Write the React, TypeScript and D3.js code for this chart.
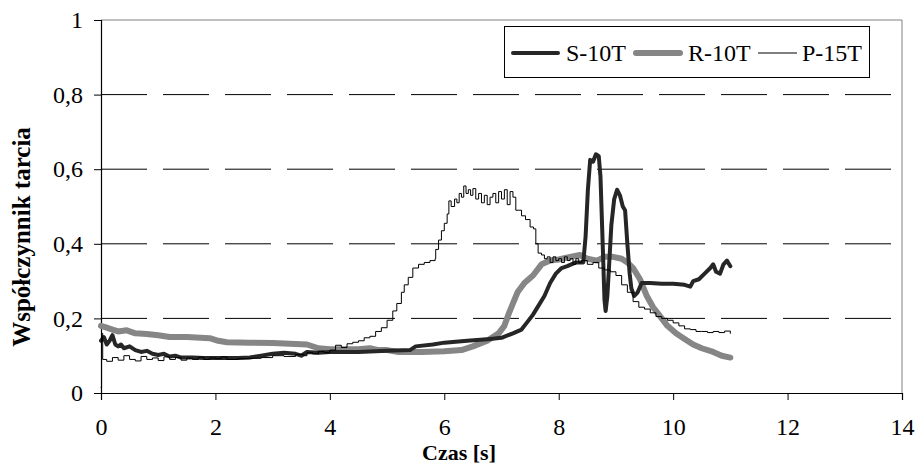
import { useRef, useEffect } from 'react';
import * as d3 from 'd3';

// friction coefficient vs time, three samples
const seriesNames = ['S-10T', 'R-10T', 'P-15T'];

const sTime = [0, 0.05, 0.1, 0.15, 0.2, 0.25, 0.3, 0.35, 0.4, 0.5, 0.6, 0.7, 0.8, 0.9, 1.0, 1.1, 1.2, 1.3, 1.4, 1.6, 1.8, 2.0, 2.4, 2.6, 2.8, 3.0, 3.2, 3.4, 3.5, 3.6, 3.8, 4.0, 4.5, 5.0, 5.4, 5.5, 5.8, 6.0, 6.4, 6.8, 7.0, 7.2, 7.35, 7.45, 7.55, 7.65, 7.75, 7.85, 7.95, 8.05, 8.15, 8.3, 8.43, 8.47, 8.51, 8.55, 8.6, 8.65, 8.7, 8.73, 8.76, 8.8, 8.82, 8.85, 8.88, 8.92, 8.97, 9.02, 9.07, 9.12, 9.16, 9.2, 9.24, 9.27, 9.32, 9.38, 9.45, 9.6, 9.8, 10.0, 10.2, 10.3, 10.35, 10.45, 10.55, 10.65, 10.7, 10.75, 10.82, 10.88, 10.94, 11.0];
const sVal = [0.14, 0.15, 0.13, 0.14, 0.155, 0.13, 0.125, 0.13, 0.12, 0.125, 0.115, 0.11, 0.113, 0.105, 0.102, 0.105, 0.098, 0.1, 0.095, 0.095, 0.094, 0.094, 0.094, 0.095, 0.1, 0.105, 0.108, 0.105, 0.1, 0.11, 0.108, 0.11, 0.11, 0.113, 0.115, 0.125, 0.13, 0.135, 0.14, 0.145, 0.148, 0.16, 0.17, 0.19, 0.21, 0.235, 0.26, 0.295, 0.32, 0.335, 0.34, 0.35, 0.35, 0.42, 0.545, 0.625, 0.62, 0.64, 0.635, 0.58, 0.44, 0.25, 0.22, 0.26, 0.34, 0.45, 0.52, 0.545, 0.53, 0.5, 0.49, 0.4, 0.32, 0.28, 0.26, 0.27, 0.295, 0.295, 0.293, 0.293, 0.29, 0.285, 0.3, 0.305, 0.32, 0.335, 0.345, 0.325, 0.32, 0.345, 0.355, 0.34];

const rTime = [0, 0.1, 0.2, 0.3, 0.45, 0.6, 0.8, 1.0, 1.2, 1.5, 1.9, 2.05, 2.2, 2.6, 3.0, 3.6, 3.8, 4.0, 4.5, 4.7, 4.85, 5.0, 5.2, 5.6, 6.0, 6.3, 6.5, 6.75, 6.95, 7.05, 7.12, 7.2, 7.28, 7.4, 7.55, 7.7, 7.85, 8.0, 8.2, 8.37, 8.5, 8.67, 8.8, 8.95, 9.1, 9.2, 9.3, 9.42, 9.54, 9.65, 9.75, 9.9, 10.05, 10.2, 10.35, 10.5, 10.7, 10.85, 11.0];
const rVal = [0.18, 0.175, 0.17, 0.165, 0.168, 0.16, 0.158, 0.155, 0.15, 0.15, 0.147, 0.14, 0.136, 0.135, 0.134, 0.13, 0.12, 0.117, 0.117, 0.12, 0.115, 0.115, 0.11, 0.11, 0.112, 0.115, 0.125, 0.14, 0.16, 0.18, 0.21, 0.24, 0.27, 0.295, 0.315, 0.345, 0.355, 0.358, 0.365, 0.37, 0.36, 0.355, 0.365, 0.365, 0.36, 0.35, 0.335, 0.305, 0.26, 0.23, 0.21, 0.18, 0.16, 0.145, 0.13, 0.12, 0.11, 0.1, 0.095];

const pTime = [0, 0.01, 0.03, 0.1, 0.2, 0.3, 0.4, 0.5, 0.6, 0.7, 0.8, 0.9, 1.0, 1.1, 1.2, 1.3, 1.4, 1.5, 1.6, 1.7, 1.8, 1.9, 2.0, 2.1, 2.2, 2.4, 2.6, 2.8, 3.0, 3.2, 3.4, 3.55, 3.6, 3.7, 3.8, 3.9, 4.0, 4.1, 4.2, 4.3, 4.4, 4.5, 4.6, 4.7, 4.8, 4.9, 5.0, 5.1, 5.17, 5.25, 5.3, 5.37, 5.45, 5.55, 5.65, 5.75, 5.84, 5.85, 5.9, 5.95, 6.0, 6.05, 6.08, 6.12, 6.18, 6.22, 6.26, 6.3, 6.34, 6.38, 6.42, 6.46, 6.5, 6.55, 6.6, 6.65, 6.7, 6.75, 6.8, 6.85, 6.9, 6.95, 7.0, 7.05, 7.1, 7.15, 7.2, 7.25, 7.3, 7.35, 7.42, 7.5, 7.56, 7.6, 7.64, 7.7, 7.75, 7.8, 7.85, 7.9, 7.95, 8.0, 8.05, 8.1, 8.15, 8.2, 8.25, 8.3, 8.35, 8.4, 8.5, 8.6, 8.7, 8.8, 8.9, 9.0, 9.1, 9.2, 9.3, 9.4, 9.5, 9.6, 9.7, 9.8, 9.9, 10.0, 10.1, 10.2, 10.3, 10.4, 10.5, 10.6, 10.7, 10.8, 10.9, 11.0];
const pVal = [0.015, 0.16, 0.09, 0.085, 0.095, 0.088, 0.1, 0.09, 0.086, 0.098, 0.09, 0.094, 0.087, 0.097, 0.09, 0.095, 0.088, 0.093, 0.09, 0.096, 0.09, 0.094, 0.092, 0.097, 0.09, 0.092, 0.093, 0.095, 0.1, 0.098, 0.103, 0.1, 0.108, 0.105, 0.112, 0.108, 0.115, 0.128, 0.122, 0.132, 0.136, 0.14, 0.148, 0.152, 0.165, 0.175, 0.195, 0.22, 0.24, 0.27, 0.29, 0.31, 0.335, 0.345, 0.35, 0.355, 0.36, 0.385, 0.41, 0.435, 0.455, 0.48, 0.515, 0.5, 0.52, 0.51, 0.535, 0.525, 0.555, 0.535, 0.545, 0.53, 0.548, 0.52, 0.535, 0.51, 0.53, 0.505, 0.525, 0.535, 0.51, 0.54, 0.52, 0.545, 0.505, 0.54, 0.525, 0.49, 0.49, 0.475, 0.465, 0.445, 0.44, 0.4, 0.375, 0.37, 0.36, 0.365, 0.35, 0.365, 0.355, 0.36, 0.35, 0.365, 0.355, 0.36, 0.345, 0.36, 0.35, 0.355, 0.345, 0.35, 0.335, 0.33, 0.325, 0.315, 0.29, 0.27, 0.245, 0.23, 0.225, 0.215, 0.205, 0.2, 0.195, 0.188, 0.18, 0.172, 0.17, 0.165, 0.165, 0.162, 0.165, 0.162, 0.166, 0.16];

const xTicks = [0, 2, 4, 6, 8, 10, 12, 14];
const yTicks = [0, 0.2, 0.4, 0.6, 0.8, 1];

type Pt = { t: number; v: number };
const zip = (ts: number[], vs: number[]): Pt[] => ts.map((t, i) => ({ t, v: vs[i] }));

export default function App() {
  const svgRef = useRef<SVGSVGElement>(null);

  useEffect(() => {
    if (!svgRef.current) return;
    const svg = d3.select(svgRef.current);
    svg.selectAll('*').remove();

    const font = "'Liberation Serif', 'Times New Roman', serif";
    const left = 101, right = 902, top = 20, bottom = 393;

    const x = d3.scaleLinear().domain([0, 14]).range([left, right]);
    const y = d3.scaleLinear().domain([0, 1]).range([bottom, top]);
    const fmt = (d: number) => String(d).replace('.', ',');

    // plot frame (top and right in grey)
    svg.append('line').attr('x1', left).attr('x2', right).attr('y1', top).attr('y2', top)
      .attr('stroke', '#808080').attr('stroke-width', 1);
    svg.append('line').attr('x1', right).attr('x2', right).attr('y1', top).attr('y2', bottom)
      .attr('stroke', '#808080').attr('stroke-width', 1);

    // dashed gridlines
    svg.append('g')
      .selectAll('line')
      .data(yTicks.filter((d) => d > 0 && d < 1))
      .enter()
      .append('line')
      .attr('x1', left)
      .attr('x2', right)
      .attr('y1', (d) => y(d))
      .attr('y2', (d) => y(d))
      .attr('stroke', '#000')
      .attr('stroke-width', 1)
      .attr('stroke-dasharray', '46,16');

    // axes
    const yAxis = svg.append('g')
      .attr('transform', `translate(${left},0)`)
      .call(d3.axisLeft(y).tickValues(yTicks).tickFormat((d) => fmt(d as number)).tickSize(7).tickPadding(11));
    const xAxis = svg.append('g')
      .attr('transform', `translate(0,${bottom})`)
      .call(d3.axisBottom(x).tickValues(xTicks).tickFormat((d) => fmt(d as number)).tickSize(7).tickPadding(18));
    [yAxis, xAxis].forEach((a) => {
      a.attr('font-family', null).attr('font-size', null);
      a.select('.domain').attr('stroke', '#000').attr('stroke-width', 1.2);
      a.selectAll('.tick line').attr('stroke', '#000');
      a.selectAll('text').style('font-family', font).style('font-size', '24px').attr('fill', '#000');
    });

    // series
    const line = d3.line<Pt>().x((d) => x(d.t)).y((d) => y(d.v));
    const stepLine = d3.line<Pt>().x((d) => x(d.t)).y((d) => y(d.v)).curve(d3.curveStepAfter);

    const series = [
      { data: zip(rTime, rVal), color: '#868686', width: 6, gen: line },
      { data: zip(sTime, sVal), color: '#262626', width: 4, gen: line },
      { data: zip(pTime, pVal), color: '#000', width: 1, gen: stepLine },
    ];
    series.forEach((s) => {
      svg.append('path')
        .datum(s.data)
        .attr('d', s.gen)
        .attr('fill', 'none')
        .attr('stroke', s.color)
        .attr('stroke-width', s.width)
        .attr('stroke-linejoin', 'round')
        .attr('stroke-linecap', 'round');
    });

    // axis titles
    svg.append('text')
      .attr('x', 459)
      .attr('y', 460)
      .attr('text-anchor', 'middle')
      .style('font-family', font)
      .style('font-weight', 'bold')
      .style('font-size', '22px')
      .text('Czas [s]');
    svg.append('text')
      .attr('transform', 'translate(30,237) rotate(-90)')
      .attr('text-anchor', 'middle')
      .style('font-family', font)
      .style('font-weight', 'bold')
      .style('font-size', '25px')
      .text('Współczynnik tarcia');

    // legend
    const lg = svg.append('g');
    lg.append('rect')
      .attr('x', 504.5).attr('y', 26.5).attr('width', 365).attr('height', 51)
      .attr('fill', '#fff').attr('stroke', '#000').attr('stroke-width', 1);
    const legendItems = [
      { name: seriesNames[0], color: '#262626', width: 4, x1: 513, x2: 558, tx: 566 },
      { name: seriesNames[1], color: '#868686', width: 6, x1: 636, x2: 680, tx: 688 },
      { name: seriesNames[2], color: '#000', width: 1, x1: 758, x2: 797, tx: 802 },
    ];
    legendItems.forEach((it) => {
      lg.append('line')
        .attr('x1', it.x1).attr('x2', it.x2)
        .attr('y1', 53).attr('y2', 53)
        .attr('stroke', it.color).attr('stroke-width', it.width)
        .attr('stroke-linecap', it.width > 1 ? 'round' : 'butt');
      lg.append('text')
        .attr('x', it.tx)
        .attr('y', 61)
        .style('font-family', font)
        .style('font-size', '24px')
        .text(it.name);
    });
  }, []);

  return (
    <svg
      ref={svgRef}
      width={916}
      height={465}
      style={{ position: 'absolute', left: 0, top: 0, background: '#fff' }}
    />
  );
}
